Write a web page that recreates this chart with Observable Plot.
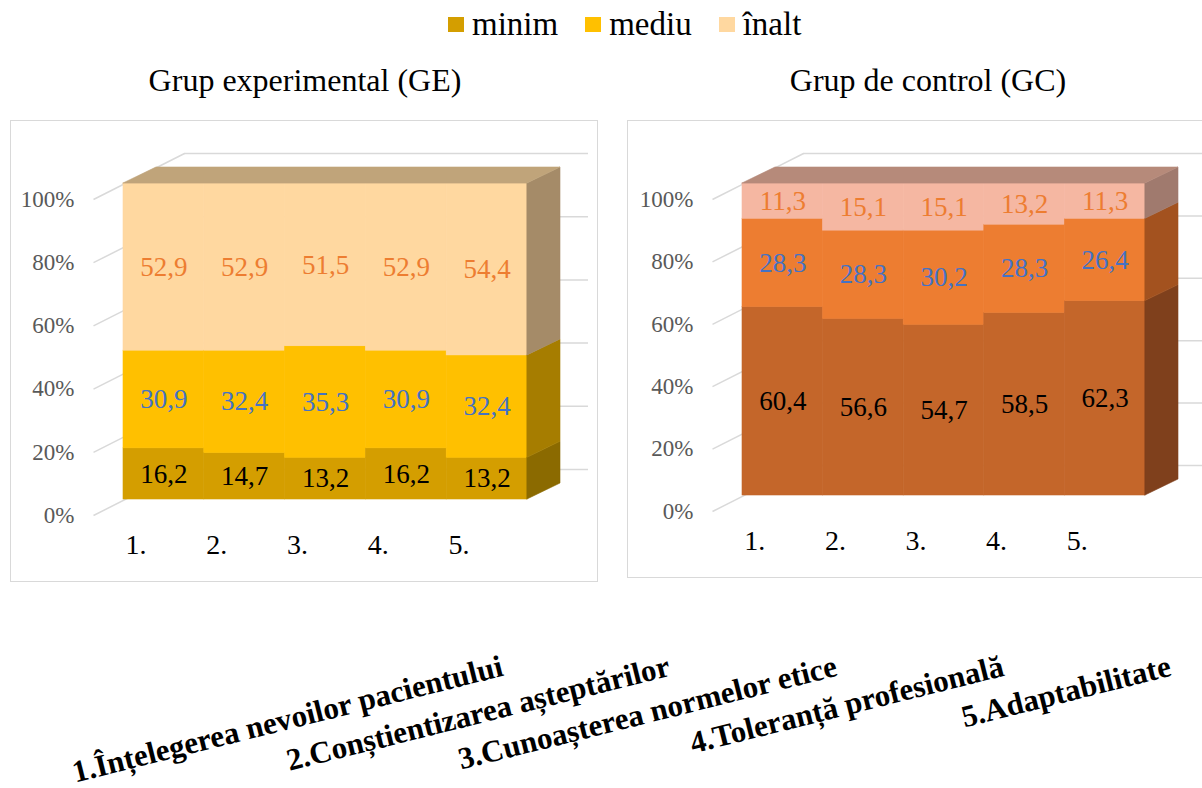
<!DOCTYPE html>
<html>
<head>
<meta charset="utf-8">
<script src="https://cdn.jsdelivr.net/npm/d3@7"></script>
<script src="https://cdn.jsdelivr.net/npm/@observablehq/plot@0.6"></script>
<style>
  body { margin: 0; background: #fff; overflow: hidden; }
  #page { position: relative; width: 1202px; height: 788px; overflow: hidden; font-family: "Liberation Serif", "Times New Roman", serif; color: #000; }
  .legend { position: absolute; top: 5px; left: 448px; display: flex; align-items: center; font-size: 33px; line-height: 38px; }
  .legend span.item { display: inline-flex; align-items: center; margin-right: 27px; }
  .legend i { display: inline-block; width: 16px; height: 15px; margin-right: 8px; }
  .title { position: absolute; top: 62px; font-size: 32px; transform: translateX(-50%); white-space: nowrap; }
  .panel { position: absolute; top: 120px; border: 1px solid #d9d9d9; }
  .dims { position: absolute; left: 0; top: 600px; }
</style>
</head>
<body>
<div id="page"></div>
<script>
// Series levels, categories and axis ticks
const levels = ["minim", "mediu", "înalt"];
const items = ["1.", "2.", "3.", "4.", "5."];
const dimensions = [
  "1.Înțelegerea nevoilor pacientului",
  "2.Conștientizarea așteptărilor",
  "3.Cunoașterea normelor etice",
  "4.Toleranță profesională",
  "5.Adaptabilitate"
];
const yTicks = [0, 20, 40, 60, 80, 100];

// Grup experimental (GE), percentages per level
const geMinim = [16.2, 14.7, 13.2, 16.2, 13.2];
const geMediu = [30.9, 32.4, 35.3, 30.9, 32.4];
const geInalt = [52.9, 52.9, 51.5, 52.9, 54.4];

// Grup de control (GC), percentages per level
const gcMinim = [60.4, 56.6, 54.7, 58.5, 62.3];
const gcMediu = [28.3, 28.3, 30.2, 28.3, 26.4];
const gcInalt = [11.3, 15.1, 15.1, 13.2, 11.3];

// Colours: front faces, shaded side faces, top face
const geFront = ["#D49E00", "#FFC000", "#FFD8A0"];
const geSide = ["#8B6A00", "#A67D00", "#A58B68"];
const geTop = "#C0A47A";
const gcFront = ["#C4662A", "#ED7D31", "#F5B7A2"];
const gcSide = ["#7F401C", "#A3521F", "#A07A6E"];
const gcTop = "#B68A7A";
const valueColors = ["#000000", "#4472C4", "#ED7D31"];
const gridColor = "#d9d9d9";
const serif = "'Liberation Serif', 'Times New Roman', serif";

// Oblique 3D offsets in pixels (screen x, screen y)
const COL_DEPTH = [33, -16];   // depth of the column block
const AXIS_PLANE = [-30, 16];  // front floor edge relative to column front
const BACK_WALL = [61, -30];   // back wall relative to column front

const page = document.getElementById("page");

// Legend
const legend = document.createElement("div");
legend.className = "legend";
levels.forEach((lev, j) => {
  const s = document.createElement("span");
  s.className = "item";
  s.innerHTML = `<i style="background:${geFront[j]}"></i>${lev}`;
  legend.appendChild(s);
});
page.appendChild(legend);

function addTitle(text, cx) {
  const t = document.createElement("div");
  t.className = "title";
  t.style.left = cx + "px";
  t.textContent = text;
  page.appendChild(t);
}
addTitle("Grup experimental (GE)", 305);
addTitle("Grup de control (GC)", 928);

function panel({series, front, side, top, width, height, xr, yr, left}) {
  const n = items.length;
  const kx = n / (xr[1] - xr[0]);          // data units per pixel (x)
  const ky = 100 / (yr[0] - yr[1]);        // data units per pixel (y)

  // stacked segments
  const rows = [];
  items.forEach((item, i) => {
    let base = 0;
    levels.forEach((lev, j) => {
      const v = series[j][i];
      rows.push({item, i: i + 1, j, level: lev, value: v, y1: base, y2: base + v});
      base += v;
    });
  });
  const topY = d3.max(rows, d => d.y2);
  const last = rows.filter(d => d.i === n);
  const ddx = COL_DEPTH[0] * kx, ddy = -COL_DEPTH[1] * ky;
  const sideFaces = last.flatMap(d => [
    {j: d.j, x: n + 0.5, y1: d.y1, y2: d.y2},
    {j: d.j, x: n + 0.5 + ddx, y1: d.y1 + ddy, y2: d.y2 + ddy}
  ]);
  const topFace = [
    {y: topY, x1: 0.5, x2: n + 0.5},
    {y: topY + ddy, x1: 0.5 + ddx, x2: n + 0.5 + ddx}
  ];
  const wallDx = (BACK_WALL[0] - AXIS_PLANE[0]) * kx;
  const wallDy = -(BACK_WALL[1] - AXIS_PLANE[1]) * ky;

  const svg = Plot.plot({
    width, height,
    margin: 0,
    style: {fontFamily: serif, background: "transparent", overflow: "visible"},
    x: {type: "linear", domain: [0.5, n + 0.5], range: xr, axis: null},
    y: {type: "linear", domain: [0, 100], range: yr, axis: null},
    color: {type: "identity"},
    marks: [
      // back wall gridlines
      Plot.ruleY(yTicks, {y: d => d, x1: () => 0.5, x2: () => n + 0.5, dx: BACK_WALL[0], dy: BACK_WALL[1], stroke: gridColor, strokeWidth: 1.5}),
      // side-wall gridlines running back from the floor edge
      Plot.link(yTicks, {x1: () => 0.5, y1: d => d, x2: () => 0.5 + wallDx, y2: d => d + wallDy, dx: AXIS_PLANE[0], dy: AXIS_PLANE[1], stroke: gridColor, strokeWidth: 1.5}),
      // percent tick labels
      Plot.text(yTicks, {x: () => 0.5, y: d => d, text: d => d + "%", textAnchor: "end", dx: AXIS_PLANE[0] - 19, dy: AXIS_PLANE[1], fill: "#595959", fontSize: 23}),
      // front faces of the stacked columns
      Plot.rect(rows, {x1: d => d.i - 0.5, x2: d => d.i + 0.5, y1: "y1", y2: "y2", fill: d => front[d.j], stroke: d => front[d.j], strokeWidth: 0.6}),
      // right side faces
      Plot.areaY(sideFaces, {x: "x", y1: "y1", y2: "y2", z: "j", fill: d => side[d.j], stroke: d => side[d.j], strokeWidth: 0.6}),
      // top face
      Plot.areaX(topFace, {y: "y", x1: "x1", x2: "x2", fill: top, stroke: top, strokeWidth: 0.6}),
      // value labels
      Plot.text(rows, {x: "i", y: d => (d.y1 + d.y2) / 2, text: d => d.value.toFixed(1).replace(".", ","), fill: d => valueColors[d.j], fontSize: 27}),
      // category labels along the floor edge
      Plot.text(items, {x: (d, i) => i + 1, y: () => 0, text: d => d, dx: AXIS_PLANE[0] + 2, dy: AXIS_PLANE[1] + 30, fill: "#000", fontSize: 28})
    ]
  });
  svg.classList.add("panel");
  svg.style.left = left + "px";
  page.appendChild(svg);
}

panel({series: [geMinim, geMediu, geInalt], front: geFront, side: geSide, top: geTop,
  width: 586, height: 460, xr: [112, 516], yr: [378, 62], left: 10});
panel({series: [gcMinim, gcMediu, gcInalt], front: gcFront, side: gcSide, top: gcTop,
  width: 586, height: 456, xr: [114, 517], yr: [374, 62], left: 627});

// Dimension names, slanted under both panels
const dims = Plot.plot({
  width: 1202, height: 188,
  marginTop: 0, marginBottom: 38, marginLeft: 0, marginRight: 0,
  style: {fontFamily: serif, background: "transparent", overflow: "visible"},
  x: {type: "point", domain: dimensions, range: [503, 1173], padding: 0, axis: null},
  marks: [
    Plot.text(dimensions, {x: d => d, text: d => d, textAnchor: "end", lineAnchor: "bottom", rotate: -14, fontSize: 31, fontWeight: "bold", fill: "#000"})
  ]
});
dims.classList.add("dims");
page.appendChild(dims);
</script>
</body>
</html>
